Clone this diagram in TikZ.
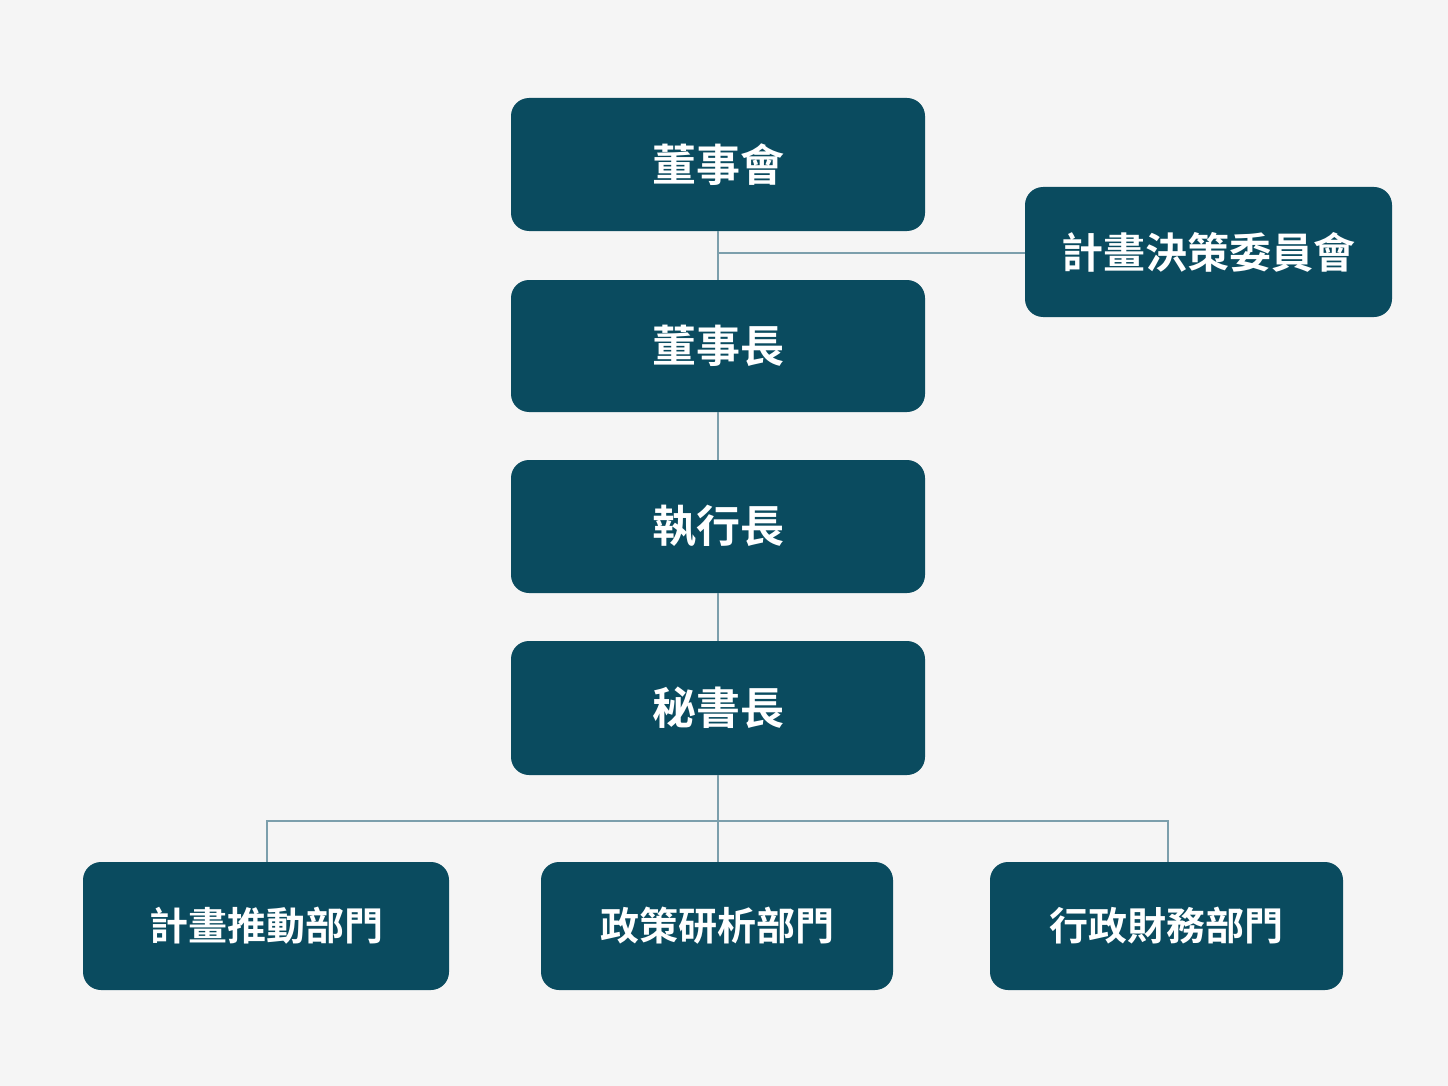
\documentclass[tikz,border=0pt]{standalone}
\usepackage{fontspec}
\newfontfamily\cjk{Noto Sans CJK TC Bold}
\definecolor{boxfill}{HTML}{0A4B5F}
\definecolor{linec}{HTML}{7C9FAC}
\definecolor{bg}{HTML}{F5F5F5}
\begin{document}
\begin{tikzpicture}[x=1pt,y=-1pt,
  orgbox/.style={fill=boxfill,rounded corners=18pt,inner sep=0pt,text=white,font=\cjk\fontsize{44}{48}\selectfont},
  conn/.style={draw=linec,line width=2pt}]
\fill[bg] (0,0) rectangle (1448,1086);
\useasboundingbox (0,0) rectangle (1448,1086);
\node[orgbox,minimum width=414pt,minimum height=133pt] (board) at (718,164.5) {董事會};
\node[orgbox,minimum width=367pt,minimum height=130pt,font=\cjk\fontsize{42}{46}\selectfont] (comm) at (1208.5,252) {計畫決策委員會};
\node[orgbox,minimum width=414pt,minimum height=132pt] (chair) at (718,346) {董事長};
\node[orgbox,minimum width=414pt,minimum height=133pt] (ceo) at (718,526.5) {執行長};
\node[orgbox,minimum width=414pt,minimum height=134pt] (sec) at (718,708) {秘書長};
\node[orgbox,minimum width=366pt,minimum height=128pt,font=\cjk\fontsize{39}{43}\selectfont] (d1) at (266,926) {計畫推動部門};
\node[orgbox,minimum width=352pt,minimum height=128pt,font=\cjk\fontsize{39}{43}\selectfont] (d2) at (717,926) {政策研析部門};
\node[orgbox,minimum width=353pt,minimum height=128pt,font=\cjk\fontsize{39}{43}\selectfont] (d3) at (1166.5,926) {行政財務部門};
\coordinate (j1) at (718,253);
\coordinate (bus) at (718,821);
\draw[conn] (board.south) -- (chair.north);
\draw[conn] (j1) -- (j1 -| comm.west);
\draw[conn] (chair.south) -- (ceo.north);
\draw[conn] (ceo.south) -- (sec.north);
\draw[conn] (sec.south) -- (bus);
\draw[conn] (d1.north -| 267,0) |- (bus) -| (d3.north -| 1168,0);
\draw[conn] (bus) -- (bus |- d2.north);
\end{tikzpicture}
\end{document}
